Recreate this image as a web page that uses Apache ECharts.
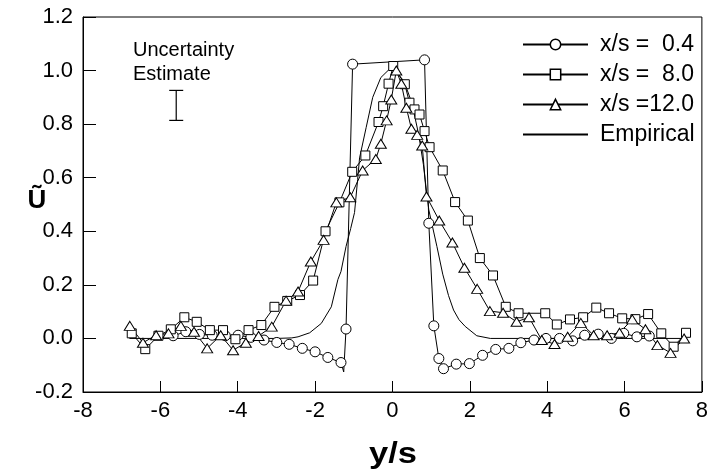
<!DOCTYPE html>
<html><head><meta charset="utf-8">
<script src="https://cdn.jsdelivr.net/npm/echarts@6/dist/echarts.min.js"></script>
<style>html,body{margin:0;padding:0;background:#fff}#c{width:711px;height:470px}</style>
</head><body><div id="c"></div>
<script>
// ---- data ----
const seriesNames = ['x/s =  0.4', 'x/s =  8.0', 'x/s =12.0', 'Empirical'];
const xTickRange = { min: -8, max: 8, step: 2 };
const yTickRange = { min: -0.2, max: 1.2, step: 0.2 };

// x/s = 0.4 (circles)  [y/s, U]
const s04 = [
  [-5.67, 0.010], [-5.34, 0.025], [-4.99, 0.015], [-4.66, 0.012], [-4.32, 0.010],
  [-3.99, 0.012], [-3.66, 0.004], [-3.32, -0.006], [-2.99, -0.015], [-2.67, -0.022],
  [-2.33, -0.037], [-2.00, -0.050], [-1.67, -0.071], [-1.33, -0.090], [-1.26, -0.125],
  [-1.20, 0.035], [-1.03, 1.024], [0.83, 1.040], [0.94, 0.430], [1.07, 0.047],
  [1.20, -0.075], [1.32, -0.113], [1.65, -0.096], [1.99, -0.094], [2.33, -0.063],
  [2.67, -0.041], [3.01, -0.037], [3.32, -0.016], [3.66, -0.006], [3.97, 0.000],
  [4.32, 0.000], [4.66, -0.009], [4.97, 0.012], [5.32, 0.016], [5.66, 0.000],
  [5.98, 0.019], [6.32, 0.006], [6.64, 0.009]
];
const s04NoMarker = [14];   // index of the unmarked line tip

// x/s = 8.0 (squares)
const s80 = [
  [-6.74, 0.019], [-6.39, -0.040], [-6.05, 0.010], [-5.73, 0.034], [-5.38, 0.079],
  [-5.06, 0.062], [-4.72, 0.031], [-4.38, 0.031], [-4.06, -0.003], [-3.72, 0.031],
  [-3.39, 0.050], [-3.05, 0.118], [-2.72, 0.140], [-2.39, 0.162], [-2.05, 0.216],
  [-1.73, 0.400], [-1.37, 0.508], [-1.04, 0.622], [-0.70, 0.683], [-0.36, 0.808],
  [-0.24, 0.867], [-0.10, 0.951], [0.02, 1.017], [0.32, 0.949], [0.44, 0.880],
  [0.57, 0.855], [0.70, 0.836], [0.83, 0.774], [0.96, 0.714], [1.30, 0.627],
  [1.62, 0.509], [1.95, 0.440], [2.26, 0.300], [2.60, 0.235], [2.93, 0.118],
  [3.26, 0.094], [3.95, 0.094], [4.25, 0.052], [4.59, 0.071], [4.93, 0.079],
  [5.27, 0.115], [5.60, 0.094], [5.94, 0.075], [6.28, 0.072], [6.61, 0.091],
  [6.95, 0.019], [7.27, -0.031], [7.59, 0.021]
];

// x/s = 12.0 (triangles)
const s120 = [
  [-6.79, 0.047], [-6.45, -0.016], [-6.11, 0.012], [-5.79, 0.019], [-5.47, 0.047],
  [-5.13, 0.025], [-4.79, -0.037], [-4.44, 0.012], [-4.12, -0.044], [-3.79, -0.016],
  [-3.46, 0.009], [-3.12, 0.044], [-2.75, 0.141], [-2.44, 0.175], [-2.11, 0.287],
  [-1.78, 0.368], [-1.45, 0.508], [-1.09, 0.527], [-0.77, 0.627], [-0.43, 0.670],
  [-0.30, 0.727], [-0.15, 0.814], [-0.03, 0.892], [0.10, 1.000], [0.23, 0.951],
  [0.36, 0.861], [0.49, 0.783], [0.64, 0.760], [0.77, 0.720], [0.88, 0.530],
  [1.21, 0.440], [1.55, 0.358], [1.86, 0.264], [2.19, 0.185], [2.52, 0.102],
  [2.86, 0.096], [3.21, 0.062], [3.53, 0.079], [3.86, -0.006], [4.19, -0.021],
  [4.53, 0.006], [4.87, 0.058], [5.20, 0.012], [5.55, 0.012], [5.87, 0.021],
  [6.20, 0.071], [6.54, 0.034], [6.85, -0.025], [7.19, -0.054], [7.54, 0.000]
];

// Empirical curve
const empirical = [
  [-6.80, 0.000], [-3.00, 0.000], [-2.60, 0.002], [-2.44, 0.006], [-2.14, 0.021],
  [-1.84, 0.056], [-1.58, 0.118], [-1.41, 0.220], [-1.33, 0.250], [-1.20, 0.343],
  [-1.08, 0.410], [-0.98, 0.470], [-0.90, 0.593], [-0.85, 0.674], [-0.68, 0.787],
  [-0.51, 0.900], [-0.30, 0.974], [-0.08, 1.005], [0.10, 0.995], [0.30, 0.960],
  [0.50, 0.880], [0.68, 0.760], [0.80, 0.650], [0.88, 0.550], [0.94, 0.480],
  [1.15, 0.343], [1.30, 0.240], [1.45, 0.160], [1.58, 0.106], [1.72, 0.070],
  [1.88, 0.045], [2.18, 0.010], [2.53, 0.000], [7.56, 0.000]
];

// Uncertainty estimate bar: [y/s, low, high]
const uncertainty = [[-5.59, 0.814, 0.926]];

// ---- chart ----
const FONT = 'Liberation Sans, Arial, sans-serif';
const chart = echarts.init(document.getElementById('c'), null, { renderer: 'canvas' });

function markerSeries(name, data, symbol, size, noMarker) {
  return {
    name, type: 'line', data: data.map((d, i) => (noMarker && noMarker.includes(i)) ? { value: d, symbol: 'none' } : d),
    symbol, symbolSize: size, showAllSymbol: true, silent: true,
    itemStyle: { color: '#fff', borderColor: '#000', borderWidth: 1 },
    lineStyle: { color: '#000', width: 1 },
    emphasis: { disabled: true }
  };
}

const option = {
  animation: false,
  backgroundColor: '#fff',
  grid: { left: 83, right: 4, top: 17, bottom: 78, show: true, borderColor: '#000', borderWidth: 1 },
  xAxis: {
    type: 'value', min: xTickRange.min, max: xTickRange.max, interval: xTickRange.step,
    axisLine: { onZero: false, lineStyle: { color: '#000', width: 1 } },
    axisTick: { inside: true, length: 11, lineStyle: { color: '#000' } },
    axisLabel: { color: '#000', fontSize: 22, fontFamily: FONT, margin: 8 },
    splitLine: { show: false }
  },
  yAxis: {
    type: 'value', min: yTickRange.min, max: yTickRange.max, interval: yTickRange.step,
    axisLine: { show: true, onZero: false, lineStyle: { color: '#000', width: 1 } },
    axisTick: { show: true, inside: true, length: 13, lineStyle: { color: '#000' } },
    axisLabel: { color: '#000', fontSize: 22, fontFamily: FONT, margin: 10, formatter: v => v.toFixed(1) },
    splitLine: { show: false }
  },
  legend: {
    left: 522, top: 33, orient: 'vertical', padding: 0,
    itemWidth: 65, itemHeight: 13, itemGap: 7, selectedMode: false,
    textStyle: { fontFamily: FONT, fontSize: 23, color: '#000', lineHeight: 20, padding: [0, 0, 0, 7] },
    lineStyle: { width: 2 },
    itemStyle: { borderWidth: 1.5 },
    data: [
      { name: seriesNames[0] }, { name: seriesNames[1] }, { name: seriesNames[2] },
      { name: seriesNames[3], icon: 'path://M0,0H65V2H0Z', itemStyle: { color: '#000' } }
    ]
  },
  graphic: [
    { type: 'text', left: 133, top: 38, style: { text: 'Uncertainty\nEstimate', font: '20px ' + FONT, fill: '#000', lineHeight: 24 } },
    { type: 'text', x: 37, y: 201, style: { text: 'Ũ', font: 'bold 26px ' + FONT, fill: '#000', align: 'center', verticalAlign: 'middle' } },
    { type: 'text', x: 393, y: 455, scaleX: 1.15, style: { text: 'y/s', font: 'bold 30px ' + FONT, fill: '#000', align: 'center', verticalAlign: 'middle' } }
  ],
  series: [
    {
      name: seriesNames[3], type: 'line', data: empirical, symbol: 'none', silent: true,
      itemStyle: { color: '#000' }, lineStyle: { color: '#000', width: 1 }, emphasis: { disabled: true }
    },
    markerSeries(seriesNames[0], s04, 'circle', 10, s04NoMarker),
    markerSeries(seriesNames[1], s80, 'rect', 9),
    markerSeries(seriesNames[2], s120, 'triangle', [11, 9]),
    {
      type: 'custom', silent: true, data: uncertainty,
      renderItem: (params, api) => {
        const lo = api.coord([api.value(0), api.value(1)]);
        const hi = api.coord([api.value(0), api.value(2)]);
        const w = 7;
        const st = { stroke: '#000', lineWidth: 1.2 };
        return {
          type: 'group', children: [
            { type: 'line', shape: { x1: lo[0], y1: lo[1], x2: hi[0], y2: hi[1] }, style: st },
            { type: 'line', shape: { x1: lo[0] - w, y1: lo[1], x2: lo[0] + w, y2: lo[1] }, style: st },
            { type: 'line', shape: { x1: hi[0] - w, y1: hi[1], x2: hi[0] + w, y2: hi[1] }, style: st }
          ]
        };
      }
    }
  ]
};
chart.setOption(option);
</script>
</body></html>
